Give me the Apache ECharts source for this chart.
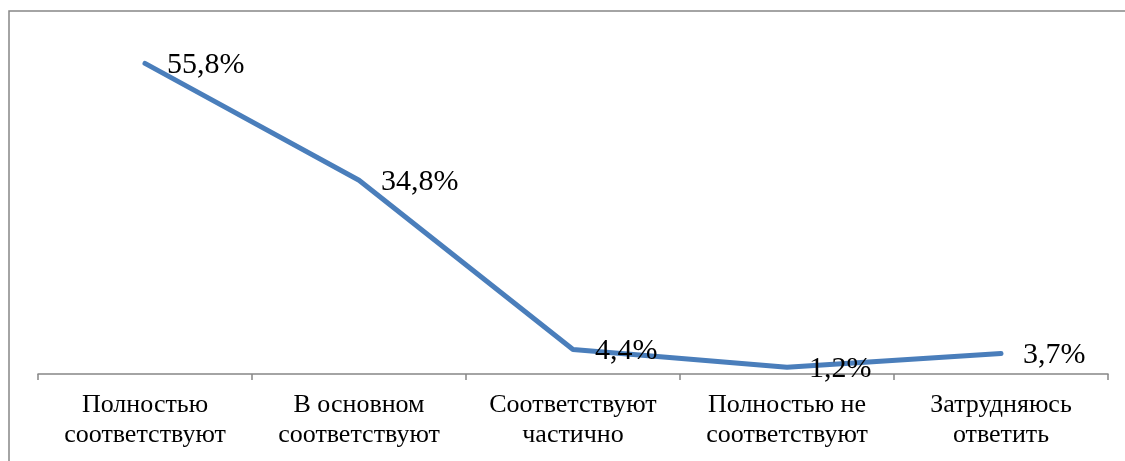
<!DOCTYPE html>
<html>
<head>
<meta charset="utf-8">
<script src="https://cdn.jsdelivr.net/npm/echarts@6/dist/echarts.min.js"></script>
<style>
html,body{margin:0;padding:0;background:#fff;}
#chart{width:1125px;height:461px;}
</style>
</head>
<body>
<div id="chart"></div>
<script>
const categories = [
  "Полностью\nсоответствуют",
  "В основном\nсоответствуют",
  "Соответствуют\nчастично",
  "Полностью не\nсоответствуют",
  "Затрудняюсь\nответить"
];
const values = [55.8, 34.8, 4.4, 1.2, 3.7];

const chart = echarts.init(document.getElementById('chart'), null, {renderer: 'canvas'});
chart.setOption({
  backgroundColor: '#ffffff',
  animation: false,
  graphic: [{
    type: 'rect',
    shape: {x: 9, y: 11, width: 1300, height: 600},
    style: {fill: 'none', stroke: '#868686', lineWidth: 1.5},
    silent: true
  }],
  grid: {left: 38, right: 17, top: 40, bottom: 87, containLabel: false},
  xAxis: {
    type: 'category',
    data: categories,
    boundaryGap: true,
    axisLine: {show: true, lineStyle: {color: '#868686', width: 1.5}},
    axisTick: {show: true, alignWithLabel: false, length: 6, lineStyle: {color: '#868686', width: 1.5}},
    axisLabel: {
      interval: 0,
      margin: 16,
      color: '#000',
      fontFamily: '"Liberation Serif", "Times New Roman", serif',
      fontSize: 26,
      lineHeight: 30
    },
    splitLine: {show: false}
  },
  yAxis: {
    type: 'value',
    min: 0,
    max: 60,
    show: false,
    splitLine: {show: false}
  },
  series: [{
    type: 'line',
    data: values,
    symbol: 'circle',
    symbolSize: 2,
    showSymbol: true,
    showAllSymbol: true,
    clip: false,
    lineStyle: {color: '#4A7EBB', width: 5, cap: 'round', join: 'round'},
    itemStyle: {color: '#4A7EBB', borderWidth: 0},
    label: {
      show: true,
      position: 'right',
      distance: 21,
      offset: [0, 2],
      color: '#000',
      fontFamily: '"Liberation Serif", "Times New Roman", serif',
      fontSize: 30,
      formatter: function (p) { return String(p.value).replace('.', ',') + '%'; }
    }
  }]
});
</script>
</body>
</html>
